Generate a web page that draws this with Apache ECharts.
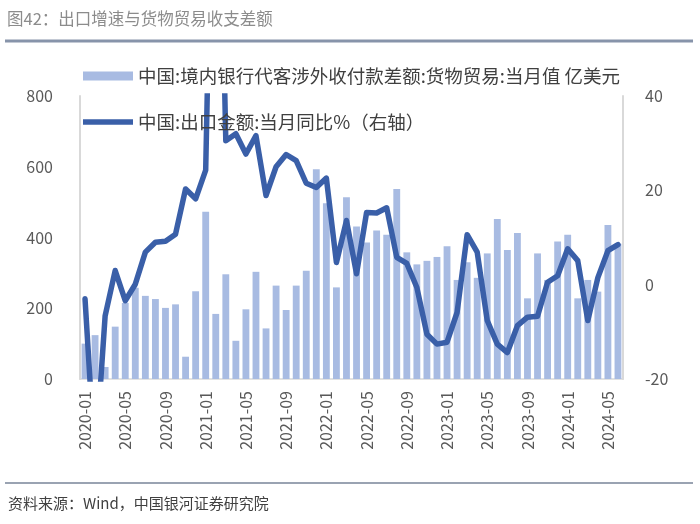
<!DOCTYPE html>
<html>
<head>
<meta charset="utf-8">
<script src="https://cdn.jsdelivr.net/npm/echarts@6/dist/echarts.min.js"></script>
<style>
html,body{margin:0;padding:0;background:#fff;}
#chart{width:700px;height:524px;}
</style>
</head>
<body>
<div id="chart"></div>
<script>
const months = [
 '2020-01','2020-02','2020-03','2020-04','2020-05','2020-06','2020-07','2020-08','2020-09','2020-10','2020-11','2020-12',
 '2021-01','2021-02','2021-03','2021-04','2021-05','2021-06','2021-07','2021-08','2021-09','2021-10','2021-11','2021-12',
 '2022-01','2022-02','2022-03','2022-04','2022-05','2022-06','2022-07','2022-08','2022-09','2022-10','2022-11','2022-12',
 '2023-01','2023-02','2023-03','2023-04','2023-05','2023-06','2023-07','2023-08','2023-09','2023-10','2023-11','2023-12',
 '2024-01','2024-02','2024-03','2024-04','2024-05','2024-06'
];
const goodsBalance = [
 100,124,34,148,215,258,235,226,201,211,63,248,
 473,184,296,108,197,303,143,264,195,264,306,593,
 497,259,514,431,386,420,408,537,358,324,334,345,
 375,280,330,286,355,452,365,413,228,355,280,389,
 408,228,280,247,435,382
];
const exportYoY = [
 -3.0,-38,-6.6,3.0,-3.4,0.1,6.9,9.0,9.2,10.7,20.3,18.2,
 24.3,128,30.5,32.0,27.7,31.6,18.9,25.0,27.6,26.3,21.5,20.6,
 22.6,4.7,13.6,2.3,15.3,15.2,16.3,5.8,4.5,-0.6,-10.5,-12.6,
 -12.2,-5.9,10.6,6.9,-7.6,-12.6,-14.4,-8.7,-6.9,-6.7,0.5,1.9,
 7.6,5.1,-7.6,1.5,7.2,8.5
];
const leftTicks = {min:0, max:800, interval:200};
const rightTicks = {min:-20, max:40, interval:20};
const barName = '中国:境内银行代客涉外收付款差额:货物贸易:当月值 亿美元';
const lineName = '中国:出口金额:当月同比%（右轴）';
const titleText = '图42：出口增速与货物贸易收支差额';
const sourceText = '资料来源：Wind，中国银河证券研究院';

const font = "'Noto Sans CJK SC','Noto Sans',sans-serif";
const chart = echarts.init(document.getElementById('chart'), null, {renderer:'canvas'});
chart.setOption({
  animation:false,
  backgroundColor:'#fff',
  textStyle:{fontFamily:font},
  title:{text:titleText,left:7,top:10,padding:0,textStyle:{fontSize:16.5,fontWeight:'normal',color:'#8c8c8c',fontFamily:font}},
  graphic:[
    {type:'line',shape:{x1:5,y1:41,x2:693,y2:41},style:{stroke:'#8794aa',lineWidth:3}},
    {type:'line',shape:{x1:5,y1:483,x2:693,y2:483},style:{stroke:'#9aa3b2',lineWidth:2}},
    {type:'text',left:8,top:496,style:{text:sourceText,fontSize:15,fill:'#404040',fontFamily:font}}
  ],
  legend:{
    orient:'vertical',left:83,top:66,padding:0,itemWidth:50,itemHeight:9,itemGap:26,
    textStyle:{fontSize:18.5,color:'#404040',lineHeight:20,fontFamily:font},
    data:[
      {name:barName,icon:'rect'},
      {name:lineName,icon:'path://M0,0 L52,0 L52,5.5 L0,5.5 Z',itemStyle:{color:'#3a5fa8'}}
    ]
  },
  grid:{left:80,right:77,top:96,bottom:145},
  xAxis:{
    type:'category',data:months,
    axisLine:{lineStyle:{color:'#d9d9d9',width:1.5}},
    axisTick:{show:false},
    axisLabel:{interval:3,rotate:90,fontSize:16,color:'#595959',margin:12,fontFamily:font}
  },
  yAxis:[
    {type:'value',min:leftTicks.min,max:leftTicks.max,interval:leftTicks.interval,
     axisLine:{show:true,lineStyle:{color:'#d9d9d9',width:2}},axisTick:{show:false},splitLine:{show:false},
     axisLabel:{fontSize:16,color:'#595959',margin:27,fontFamily:font}},
    {type:'value',position:'right',min:rightTicks.min,max:rightTicks.max,interval:rightTicks.interval,
     axisLine:{show:true,lineStyle:{color:'#d9d9d9',width:2}},axisTick:{show:false},splitLine:{show:false},
     axisLabel:{fontSize:16,color:'#595959',margin:22,fontFamily:font}}
  ],
  series:[
    {name:barName,type:'bar',data:goodsBalance,yAxisIndex:0,barWidth:'68%',
     itemStyle:{color:'#a8bbe2'}},
    {name:lineName,type:'line',data:exportYoY,yAxisIndex:1,symbol:'none',clip:true,
     lineStyle:{color:'#3a5fa8',width:5.5,join:'round',cap:'round'},itemStyle:{color:'#3a5fa8'}}
  ]
});
</script>
</body>
</html>
